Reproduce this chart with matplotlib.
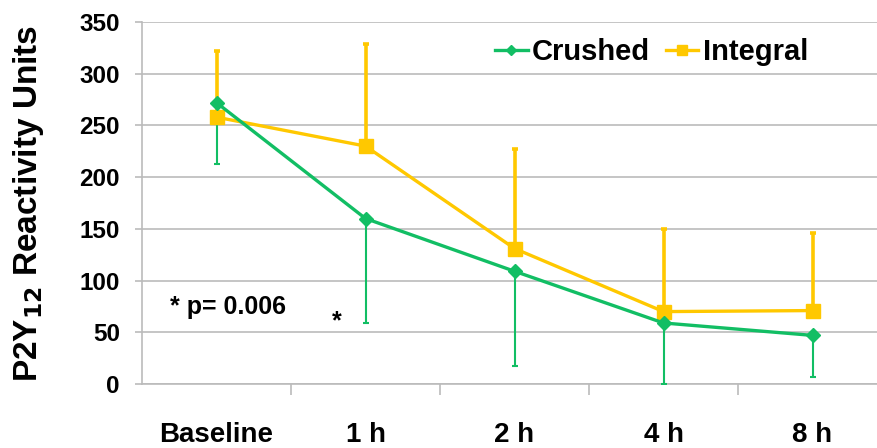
import matplotlib
matplotlib.use("Agg")
import matplotlib.pyplot as plt
import numpy as np

plt.rcParams['font.family'] = ['Liberation Sans', 'DejaVu Sans']
plt.rcParams['font.weight'] = 'bold'

categories = ["Baseline", "1 h", "2 h", "4 h", "8 h"]
crushed = [272, 160, 109, 59, 47]
crushed_lower_err = [59, 101, 92, 59, 40]
integral = [258, 230, 131, 70, 71]
integral_upper_err = [64, 99, 96, 80, 75]
y_ticks = [0, 50, 100, 150, 200, 250, 300, 350]

green = '#12BE64'
yellow = '#FFC800'

fig = plt.figure(figsize=(8.77, 4.48), dpi=100)
ax = fig.add_axes([142/877, 64/448, 745/877, 362/448])
x = np.arange(len(categories))

ax.errorbar(x, integral, yerr=[np.zeros(len(x)), integral_upper_err], fmt='none',
            ecolor=yellow, elinewidth=2.6, capsize=2.5, capthick=2.6, zorder=3)
ax.errorbar(x, crushed, yerr=[crushed_lower_err, np.zeros(len(x))], fmt='none',
            ecolor=green, elinewidth=1.5, capsize=2.5, capthick=1.5, zorder=3)
ax.plot(x, integral, color=yellow, lw=2.4, marker='s', ms=10, label='Integral', zorder=4)
ax.plot(x, crushed, color=green, lw=2.4, marker='D', ms=7, label='Crushed', zorder=5)

ax.set_xlim(-0.5, 4.5)
ax.set_ylim(0, 350)
ax.set_yticks(y_ticks)
ax.set_xticks(x)
ax.set_xticklabels(categories, fontsize=20, fontweight='bold')
ax.set_xticks(np.arange(0.5, 4.5, 1), minor=True)
ax.tick_params(axis='x', which='major', length=0, pad=27)
ax.tick_params(axis='x', which='minor', length=8, color='#BBBBBB', width=1.2)
ax.tick_params(axis='y', length=5, color='#BBBBBB', width=1.2, pad=11, labelsize=17.5)
for lab in ax.get_yticklabels():
    lab.set_fontweight('bold')

ax.grid(axis='y', color='#BBBBBB', lw=1.2)
ax.set_axisbelow(True)
for s in ['top', 'right']:
    ax.spines[s].set_visible(False)
for s in ['left', 'bottom']:
    ax.spines[s].set_color('#BBBBBB')
    ax.spines[s].set_linewidth(1.2)

ax.set_ylabel(r'P2Y$_{\mathbf{12}}$ Reactivity Units', fontsize=24, fontweight='bold', labelpad=24)

handles, labels = ax.get_legend_handles_labels()
leg = ax.legend(handles[::-1], labels[::-1], loc='upper left', bbox_to_anchor=(333/745, 1.012),
                ncol=2, frameon=False, fontsize=21, handlelength=1.1, handletextpad=0.15,
                columnspacing=0.55, markerscale=0.7, borderaxespad=0.3)

ax.annotate('*', xy=(337, 448-321), xycoords='figure pixels', fontsize=18,
            fontweight='bold', va='center', ha='center')
ax.annotate('* p= 0.006', xy=(170, 448-307), xycoords='figure pixels', fontsize=18,
            fontweight='bold', va='center', ha='left')

fig.savefig('out.png', dpi=100)
